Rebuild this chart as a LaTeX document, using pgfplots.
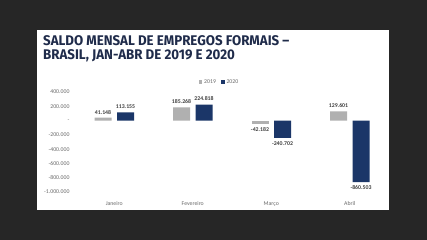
\documentclass[border=0pt]{standalone}
\usepackage{fontspec}
\setmainfont{Carlito}
\newfontfamily\titlefont[FakeStretch=0.95]{Fira Sans}
\usepackage{pgfplots}
\pgfplotsset{compat=1.18}
\usetikzlibrary{backgrounds}
\definecolor{bg}{HTML}{262626}
\definecolor{navy}{HTML}{1B3668}
\definecolor{gr}{HTML}{B0B0B0}
\definecolor{titlec}{HTML}{1F2B4A}
\definecolor{lab}{HTML}{6A6A6A}
\definecolor{dlab}{HTML}{404040}
\begin{document}
\begin{tikzpicture}[x=1pt,y=1pt]
\begin{axis}[
  scale only axis,
  width=314pt, height=100pt,
  xmin=-0.5, xmax=3.5, ymin=-1000000, ymax=400000,
  scaled ticks=false,
  axis line style={draw=none}, tick style={draw=none},
  clip=false,
  ybar, bar width=17pt,
  ytick={-1000000,-800000,-600000,-400000,-200000,0,200000,400000},
  yticklabels={-1.000.000,-800.000,-600.000,-400.000,-200.000,-,200.000,400.000},
  yticklabel style={font=\fontsize{5.8}{6}\selectfont, text=lab, anchor=east, xshift=-2pt},
  xtick={0,1,2,3},
  xticklabels={Janeiro,Fevereiro,Março,Abril},
  xticklabel style={font=\fontsize{5.8}{6}\selectfont, text=lab, yshift=-2pt},
  point meta=explicit symbolic,
  legend style={at={(0.46,1)}, anchor=south, yshift=3pt, draw=none, fill=none, legend columns=2, font=\fontsize{5.8}{6}\selectfont, text=lab, /tikz/every even column/.append style={column sep=3pt}},
  legend image code/.code={\fill[#1] (0pt,-1.8pt) rectangle (3.6pt,1.8pt);},
]
\addplot[fill=gr, draw=none, bar shift=-11.25pt, nodes near coords, nodes near coords style={anchor=south, font=\bfseries\fontsize{5.8}{6}\selectfont, text=dlab}] coordinates {
  (0,41148) [41.148]
  (1,185268) [185.268]
  (3,129601) [129.601]
};
\addlegendentry{2019}
\addplot[fill=navy, draw=none, bar shift=11.25pt, nodes near coords, nodes near coords style={anchor=south, font=\bfseries\fontsize{5.8}{6}\selectfont, text=dlab}] coordinates {
  (0,113155) [113.155]
  (1,224818) [224.818]
};
\addlegendentry{2020}
\addplot[fill=gr, draw=none, bar shift=-11.25pt, nodes near coords, nodes near coords style={anchor=north, font=\bfseries\fontsize{5.8}{6}\selectfont, text=dlab}, forget plot] coordinates {
  (2,-42182) [-42.182]
};
\addplot[fill=navy, draw=none, bar shift=11.25pt, nodes near coords, nodes near coords style={anchor=north, font=\bfseries\fontsize{5.8}{6}\selectfont, text=dlab}, forget plot] coordinates {
  (2,-240702) [-240.702]
  (3,-860503) [-860.503]
};
\end{axis}
\begin{scope}[on background layer]
\fill[bg] (-75,-48) rectangle (352,192);
\fill[white] (-38,-18) rectangle (314,162);
\end{scope}
\node[anchor=north west, align=left, text=titlec, font=\titlefont\bfseries\fontsize{14}{14.5}\selectfont, inner sep=0] at (-32,157) {SALDO MENSAL DE EMPREGOS FORMAIS –\\BRASIL, JAN-ABR DE 2019 E 2020};
\end{tikzpicture}
\end{document}
